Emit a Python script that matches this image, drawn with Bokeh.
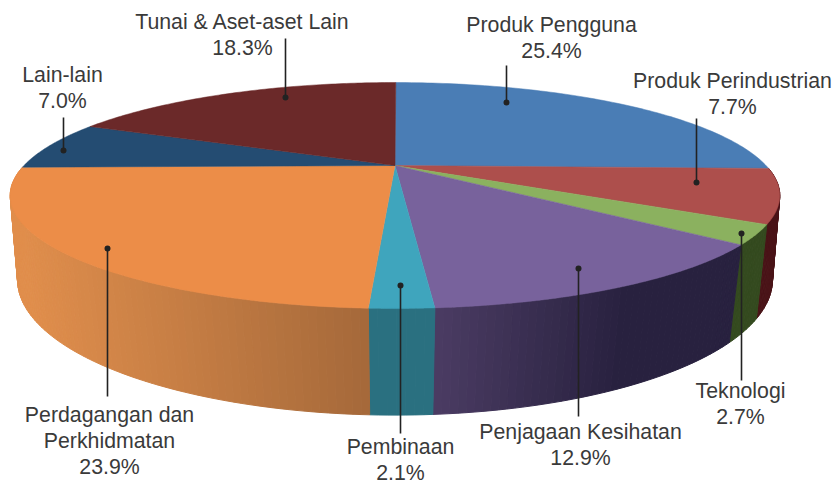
import numpy as np
from bokeh.plotting import figure
from bokeh.embed import file_html
from bokeh.resources import INLINE
from bokeh.core.properties import value

# ---- data
categories = ["Produk Pengguna", "Produk Perindustrian", "Teknologi", "Penjagaan Kesihatan",
              "Pembinaan", "Perdagangan dan\nPerkhidmatan", "Lain-lain", "Tunai & Aset-aset Lain"]
shares = [25.4, 7.7, 2.7, 12.9, 2.1, 23.9, 7.0, 18.3]

# ---- styles
top_colors = ["#4a7db5", "#ad4f4c", "#8bb15f", "#78629c", "#3fa5bd", "#ec8d48", "#244c72", "#6b2929"]
wall_left = ["#2d4d70", "#4a1418", "#344a1f", "#4b3c63", "#2a7080", "#e08e4c", "#16304a", "#401818"]
wall_right = ["#2d4d70", "#4a1418", "#344a1f", "#28213f", "#2a7080", "#a5693a", "#16304a", "#401818"]
wall_speed = [1, 1, 1, 1.6, 1, 1, 1, 1]
text_color = "#3a3a3a"

# ---- layout (pixel space of the picture)
CX = 394.5
ROT = np.radians(0.15)
TOP = dict(cy=165.0, rx=371.0, ry=105.0, k=0.2655)
BOT = dict(cy=247.5, rx=367.0, ry=128.0, k=0.234)
label_x = [551, 732, 740, 580, 400, 109, 62, 242]
label_y = [24, 80, 390, 431, 446, 414, 74, 21]
dot_x = [506, 696, 741, 578, 400, 107, 63, 285]
dot_y = [102, 182, 233, 268, 285, 248, 150, 97]
end_y = [65, 118, 380, 416, 433, 396, 117, 38]
LINE_STEP = 26

p = figure(width=835, height=483, x_range=(0, 835), y_range=(483, 0),
           toolbar_location=None, output_backend="svg", min_border=0)
p.axis.visible = False
p.grid.visible = False
p.outline_line_color = None
p.border_fill_color = "white"
p.background_fill_color = "white"


def project(theta, g):
    c = np.cos(theta + ROT)
    s = np.sin(theta + ROT)
    d = 1 + g["k"] * c
    return CX + g["rx"] * s / d, g["cy"] - g["ry"] * c / d


def hex_rgb(h):
    return np.array([int(h[i:i + 2], 16) for i in (1, 3, 5)], dtype=float)


def mix(a, b, t):
    r = hex_rgb(a) * (1 - t) + hex_rgb(b) * t
    return "#%02x%02x%02x" % tuple(int(round(v)) for v in r)


edges = np.radians(np.concatenate([[0], np.cumsum(shares)]) * 3.6)

# side wall: only wedges that reach the front half of the disc
wx, wy, wc = [], [], []
for i in range(len(shares)):
    a0, a1 = edges[i], edges[i + 1]
    if np.cos(0.5 * (a0 + a1)) > 0:
        continue
    n = max(2, int(np.degrees(a1 - a0) / 1.0))
    ts = np.linspace(a0, a1, n + 1)
    x0, x1 = sorted([project(a0, TOP)[0], project(a1, TOP)[0]])
    for t0, t1 in zip(ts[:-1], ts[1:]):
        tx0, ty0 = project(t0, TOP)
        tx1, ty1 = project(t1, TOP)
        bx0, by0 = project(t0, BOT)
        bx1, by1 = project(t1, BOT)
        f = (0.5 * (tx0 + tx1) - x0) / max(x1 - x0, 1) * wall_speed[i]
        f = float(np.clip(f, 0, 1))
        wx.append([tx0, tx1, bx1, bx0])
        wy.append([ty0, ty1, by1, by0])
        wc.append(mix(wall_left[i], wall_right[i], f))
p.patches(wx, wy, fill_color=wc, line_color=wc, line_width=1)

# top surface
tx, ty = [], []
for i in range(len(shares)):
    ts = np.linspace(edges[i], edges[i + 1], 90)
    x, y = project(ts, TOP)
    tx.append([CX] + list(x))
    ty.append([TOP["cy"]] + list(y))
p.patches(tx, ty, fill_color=top_colors, line_color=top_colors, line_width=0.5)

# leaders
p.segment(dot_x, dot_y, dot_x, end_y, line_color="#222222", line_width=1.6)
p.scatter(dot_x, dot_y, size=6, fill_color="#222222", line_color=None)

# labels
lx, ly, lt = [], [], []
for name, share, x, y in zip(categories, shares, label_x, label_y):
    rows = name.split("\n") + ["%.1f%%" % share]
    for j, r in enumerate(rows):
        lx.append(x)
        ly.append(y + j * LINE_STEP)
        lt.append(r)
p.text(lx, ly, text=lt, text_align="center", text_baseline="middle",
       text_font=value("Liberation Sans"), text_font_size="21.3px", text_color=text_color)

open("out.html", "w").write(file_html(p, INLINE))
